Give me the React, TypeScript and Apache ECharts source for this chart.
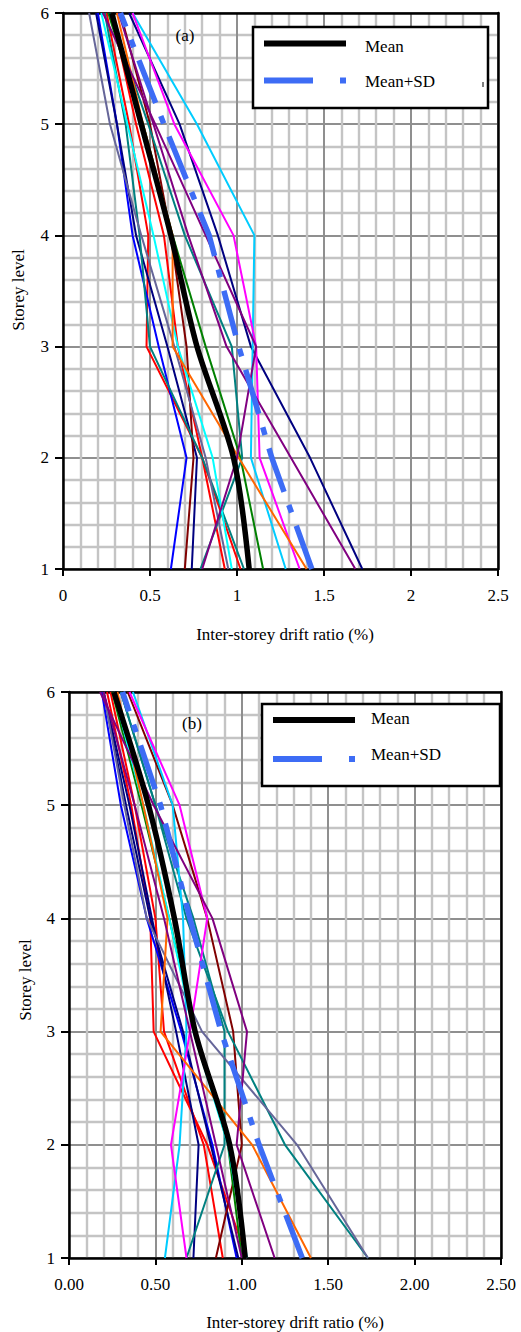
import React, { useEffect, useRef } from "react";
import * as echarts from "echarts";

// Storey levels (y) shared by every record
const storeys = [1, 2, 3, 4, 5, 6];
const xTicksA = ["0", "0.5", "1", "1.5", "2", "2.5"];
const xTicksB = ["0.00", "0.50", "1.00", "1.50", "2.00", "2.50"];

// Panel (a) – inter-storey drift ratio (%) at storeys 1..6
const aMean = [1.07, 0.98, 0.77, 0.62, 0.45, 0.28];
const aMeanSD = [1.43, 1.2, 1.01, 0.84, 0.58, 0.33];
const aRed1 = [1.02, 0.8, 0.48, 0.49, 0.38, 0.25];
const aRed2 = [0.93, 0.8, 0.66, 0.58, 0.42, 0.28];
const aBlue = [0.62, 0.71, 0.55, 0.4, 0.31, 0.2];
const aNavy1 = [0.74, 0.77, 0.6, 0.42, 0.31, 0.19];
const aNavy2 = [1.72, 1.42, 1.08, 0.89, 0.67, 0.38];
const aMaroon = [0.7, 0.75, 0.71, 0.62, 0.5, 0.33];
const aGreen = [1.15, 1.02, 0.82, 0.63, 0.46, 0.26];
const aTeal1 = [0.79, 1.03, 0.97, 0.7, 0.49, 0.27];
const aTeal2 = [1.04, 0.8, 0.5, 0.44, 0.36, 0.24];
const aSlate = [0.95, 0.82, 0.64, 0.45, 0.27, 0.15];
const aCyan = [0.97, 0.86, 0.66, 0.52, 0.37, 0.22];
const aSky = [1.28, 1.08, 1.09, 1.1, 0.77, 0.4];
const aMagenta = [1.36, 1.13, 1.11, 0.98, 0.64, 0.4];
const aOrange = [1.4, 1.01, 0.63, 0.63, 0.46, 0.31];
const aPurple1 = [1.68, 1.31, 0.94, 0.72, 0.52, 0.32];
const aPurple2 = [0.8, 1.0, 1.11, 0.82, 0.53, 0.23];

// Panel (b)
const bMean = [1.02, 0.93, 0.73, 0.61, 0.46, 0.26];
const bMeanSD = [1.35, 1.1, 0.88, 0.7, 0.53, 0.31];
const bRed1 = [1.03, 0.8, 0.49, 0.47, 0.36, 0.22];
const bRed2 = [0.89, 0.78, 0.55, 0.5, 0.38, 0.24];
const bBlue = [0.97, 0.83, 0.65, 0.45, 0.3, 0.19];
const bNavy1 = [0.72, 0.75, 0.62, 0.48, 0.35, 0.2];
const bNavy2 = [0.98, 0.82, 0.66, 0.47, 0.33, 0.2];
const bMaroon = [0.85, 1.0, 0.95, 0.8, 0.6, 0.34];
const bGreen = [1.0, 0.92, 0.73, 0.58, 0.42, 0.25];
const bTeal1 = [1.73, 1.25, 0.92, 0.68, 0.5, 0.3];
const bTeal2 = [0.68, 0.9, 0.9, 0.72, 0.5, 0.3];
const bSlate = [1.73, 1.32, 0.77, 0.45, 0.32, 0.2];
const bCyan = [1.03, 0.92, 0.72, 0.58, 0.43, 0.26];
const bSky = [0.555, 0.64, 0.68, 0.66, 0.6, 0.37];
const bMagenta = [0.68, 0.59, 0.7, 0.8, 0.64, 0.35];
const bOrange = [1.4, 1.06, 0.53, 0.57, 0.43, 0.28];
const bPurple1 = [1.19, 0.97, 1.03, 0.83, 0.49, 0.18];
const bPurple2 = [1.0, 0.85, 0.7, 0.55, 0.38, 0.2];

const C = {
  red: "#ff0000",
  blue: "#0000ff",
  navy: "#000080",
  maroon: "#800000",
  green: "#008000",
  teal: "#008080",
  slate: "#666699",
  cyan: "#00ffff",
  sky: "#00ccff",
  magenta: "#ff00ff",
  orange: "#ff6600",
  purple: "#800080",
};

const recordsA: [number[], string][] = [
  [aRed1, C.red], [aRed2, C.red], [aBlue, C.blue], [aNavy1, C.navy], [aNavy2, C.navy],
  [aMaroon, C.maroon], [aGreen, C.green], [aTeal1, C.teal], [aTeal2, C.teal], [aSlate, C.slate],
  [aCyan, C.cyan], [aSky, C.sky], [aMagenta, C.magenta], [aOrange, C.orange], [aPurple1, C.purple],
  [aPurple2, C.purple],
];
const recordsB: [number[], string][] = [
  [bRed1, C.red], [bRed2, C.red], [bBlue, C.blue], [bNavy1, C.navy], [bNavy2, C.navy],
  [bMaroon, C.maroon], [bGreen, C.green], [bTeal1, C.teal], [bTeal2, C.teal], [bSlate, C.slate],
  [bCyan, C.cyan], [bSky, C.sky], [bMagenta, C.magenta], [bOrange, C.orange], [bPurple1, C.purple],
  [bPurple2, C.purple],
];

const FONT = "'Liberation Serif', 'Times New Roman', serif";
const SD_BLUE = "#3d6cf5";

function App() {
  const ref = useRef<HTMLDivElement>(null);
  useEffect(() => {
    if (!ref.current) return;
    const chart = echarts.init(ref.current, undefined, { renderer: "svg" });
    const toPts = (vals: number[]) => vals.map((v, i) => [v, storeys[i]]);

    const mkX = (grid: number, labels: string[]) => ({
      type: "value",
      gridIndex: grid,
      min: 0,
      max: 2.5,
      interval: 0.5,
      axisLine: { show: true, onZero: false, lineStyle: { color: "#000", width: 2.5 } },
      axisTick: { show: true, length: 7, lineStyle: { color: "#000", width: 2 } },
      axisLabel: {
        margin: 18,
        fontFamily: FONT,
        fontSize: 17,
        color: "#000",
        formatter: (v: number) => labels[Math.round(v / 0.5)],
      },
      splitLine: { show: true, lineStyle: { color: "#8f8f8f", width: 2 } },
      minorTick: { show: false, splitNumber: 5 },
      minorSplitLine: { show: true, lineStyle: { color: "#c4c4c4", width: 2.4 } },
    });
    const mkXTop = (grid: number) => ({
      type: "value",
      gridIndex: grid,
      position: "top",
      min: 0,
      max: 2.5,
      interval: 0.5,
      axisLine: { show: true, onZero: false, lineStyle: { color: "#000", width: 2.5 } },
      axisTick: { show: false },
      axisLabel: { show: false },
      splitLine: { show: false },
    });
    const mkY = (grid: number) => ({
      type: "value",
      gridIndex: grid,
      min: 1,
      max: 6,
      interval: 1,
      axisLine: { show: true, onZero: false, lineStyle: { color: "#000", width: 2.5 } },
      axisTick: { show: true, length: 8, lineStyle: { color: "#000", width: 2 } },
      axisLabel: { margin: 14, fontFamily: FONT, fontSize: 17, color: "#000" },
      splitLine: { show: true, lineStyle: { color: "#8f8f8f", width: 2 } },
      minorTick: { show: false, splitNumber: 5 },
      minorSplitLine: { show: true, lineStyle: { color: "#c4c4c4", width: 2.4 } },
    });
    const mkYRight = (grid: number) => ({
      type: "value",
      gridIndex: grid,
      position: "right",
      min: 1,
      max: 6,
      interval: 1,
      axisLine: { show: true, onZero: false, lineStyle: { color: "#000", width: 2.5 } },
      axisTick: { show: false },
      axisLabel: { show: false },
      splitLine: { show: false },
    });

    const series: any[] = [];
    const addPanel = (recs: [number[], string][], mean: number[], sd: number[], xi: number, yi: number) => {
      recs.forEach(([vals, color], k) => {
        series.push({
          type: "line",
          name: "rec" + xi + "_" + k,
          xAxisIndex: xi,
          yAxisIndex: yi,
          data: toPts(vals),
          symbol: "none",
          silent: true,
          lineStyle: { color, width: 2 },
          z: 3,
        });
      });
      series.push({
        type: "line",
        name: "Mean",
        xAxisIndex: xi,
        yAxisIndex: yi,
        data: toPts(mean),
        symbol: "none",
        smooth: 0.3,
        silent: true,
        lineStyle: { color: "#000", width: 5.5 },
        z: 4,
      });
      series.push({
        type: "line",
        name: "Mean+SD",
        xAxisIndex: xi,
        yAxisIndex: yi,
        data: toPts(sd),
        symbol: "none",
        silent: true,
        lineStyle: { color: SD_BLUE, width: 5.5, type: [46, 14, 8, 14], cap: "butt" },
        z: 5,
      });
    };
    addPanel(recordsA, aMean, aMeanSD, 0, 0);
    addPanel(recordsB, bMean, bMeanSD, 2, 2);

    const txt = (x: number, y: number, text: string, extra: any = {}) => ({
      type: "text",
      x,
      y,
      z: 22,
      ...extra,
      style: { text, fontFamily: FONT, fontSize: 17, fill: "#000", verticalAlign: "middle", ...(extra.style || {}) },
    });

    const legend = (x0: number, y0: number, x1: number, y1: number, meanY: number, sdY: number, tx: number, mty: number, sty: number) => [
      {
        type: "rect",
        shape: { x: x0, y: y0, width: x1 - x0, height: y1 - y0 },
        style: { fill: "#fff", stroke: "#000", lineWidth: 2.5 },
        z: 20,
      },
      {
        type: "line",
        shape: { x1: x0 + 11, y1: meanY, x2: x0 + 93, y2: meanY },
        style: { stroke: "#000", lineWidth: 6 },
        z: 21,
      },
      {
        type: "line",
        shape: { x1: x0 + 11, y1: sdY, x2: x0 + 60, y2: sdY },
        style: { stroke: SD_BLUE, lineWidth: 6 },
        z: 21,
      },
      {
        type: "rect",
        shape: { x: x0 + 87, y: sdY - 3, width: 6, height: 6 },
        style: { fill: SD_BLUE },
        z: 21,
      },
      txt(tx, mty, "Mean"),
      txt(tx, sty, "Mean+SD"),
    ];

    const option: any = {
      animation: false,
      backgroundColor: "#fff",
      textStyle: { fontFamily: FONT },
      grid: [
        { left: 63, top: 13, width: 435, height: 556, show: true, backgroundColor: "#fff", borderWidth: 0 },
        { left: 69, top: 692, width: 432, height: 566, show: true, backgroundColor: "#fff", borderWidth: 0 },
      ],
      xAxis: [mkX(0, xTicksA), mkXTop(0), mkX(1, xTicksB), mkXTop(1)],
      yAxis: [mkY(0), mkYRight(0), mkY(1), mkYRight(1)],
      series,
      graphic: [
        ...legend(253, 27, 488, 108, 43.5, 80.5, 365, 46, 81),
        {
          type: "line",
          shape: { x1: 483, y1: 82, x2: 483, y2: 87 },
          style: { stroke: "#000", lineWidth: 1 },
          z: 22,
        },
        ...legend(262, 704, 500, 786, 720, 759, 371, 718, 754),
        txt(185, 35, "(a)", { style: { align: "center" } }),
        txt(192, 723, "(b)", { style: { align: "center" } }),
        txt(18, 290, "Storey level", { rotation: Math.PI / 2, style: { align: "center" } }),
        txt(25, 980, "Storey level", { rotation: Math.PI / 2, style: { align: "center" } }),
        txt(285, 634, "Inter-storey drift ratio (%)", { style: { align: "center" } }),
        txt(295, 1322, "Inter-storey drift ratio (%)", { style: { align: "center" } }),
      ],
    };
    chart.setOption(option);
    return () => chart.dispose();
  }, []);
  return (
    <div
      ref={ref}
      style={{ position: "fixed", left: 0, top: 0, width: 521, height: 1332, background: "#fff" }}
    />
  );
}

export default App;
